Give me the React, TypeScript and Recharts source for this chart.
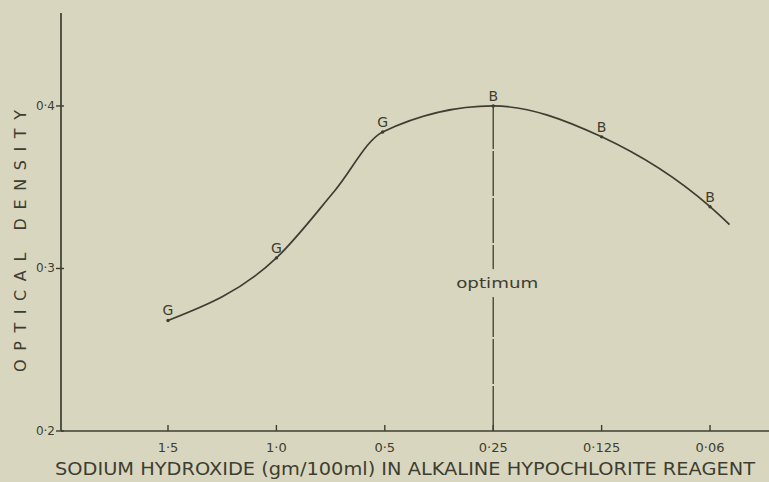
import {
  LineChart,
  Line,
  XAxis,
  YAxis,
  ReferenceLine,
  ReferenceDot,
} from 'recharts';

const INK = '#3d3e31';
const PAPER = '#d9d6bf';

// x axis: equally spaced concentration steps (index on the axis)
const tickPositions = [0, 1, 2, 3, 4, 5];
const tickLabels = ['1·5', '1·0', '0·5', '0·25', '0·125', '0·06'];

// curve
const curveX = [0, 1, 1.54, 1.98, 3, 4, 5, 5.18];
const curveDensity = [0.268, 0.3065, 0.348, 0.384, 0.4, 0.381, 0.338, 0.327];
const curveMarks = ['G', 'G', '', 'G', 'B', 'B', 'B', ''];

const densityTicks = [0.2, 0.3, 0.4];
const densityLabels = ['0·2', '0·3', '0·4'];

const optimumX = 3;
const optimumTop = 0.4;
const optimumLabelAt = 0.291;

const data = curveX.map((x, i) => ({
  x,
  density: curveDensity[i],
  mark: curveMarks[i],
}));

const FONT = '"DejaVu Sans", sans-serif';

const MarkDot = (props: any) => {
  const { cx, cy, payload, index } = props;
  if (!payload.mark) return <g key={index} />;
  return (
    <g key={index}>
      <circle cx={cx} cy={cy} r={1.7} fill={INK} />
      <text
        x={cx}
        y={cy - 5}
        textAnchor="middle"
        fontSize={14}
        fontFamily={FONT}
        fill={INK}
      >
        {payload.mark}
      </text>
    </g>
  );
};

const XTick = (props: any) => {
  const { x, y, payload } = props;
  const i = tickPositions.indexOf(payload.value);
  return (
    <g>
      <line x1={x} x2={x} y1={y} y2={y - 6} stroke={INK} strokeWidth={1.4} />
      <text
        x={x}
        y={y + 21}
        textAnchor="middle"
        fontSize={13}
        fontFamily={FONT}
        fill={INK}
      >
        {tickLabels[i]}
      </text>
    </g>
  );
};

const YTick = (props: any) => {
  const { x, y, payload } = props;
  const i = densityTicks.indexOf(payload.value);
  return (
    <g>
      <line x1={x - 5} x2={x + 3} y1={y} y2={y} stroke={INK} strokeWidth={1.4} />
      <text
        x={x - 6}
        y={y + 4}
        textAnchor="end"
        fontSize={12}
        fontFamily={FONT}
        fill={INK}
      >
        {densityLabels[i]}
      </text>
    </g>
  );
};

const OptimumLabel = (props: any) => {
  const { cx, cy } = props;
  return (
    <g>
      <rect x={cx - 42} y={cy - 14} width={84} height={28} fill={PAPER} />
      <text
        x={cx + 4}
        y={cy + 5}
        textAnchor="middle"
        fontSize={14}
        fontFamily={FONT}
        fill={INK}
        textLength={82}
        lengthAdjust="spacingAndGlyphs"
      >
        optimum
      </text>
    </g>
  );
};

export default function App() {
  return (
    <div
      style={{
        position: 'absolute',
        left: 0,
        top: 0,
        width: 769,
        height: 482,
        background: PAPER,
      }}
    >
      <LineChart
        width={769}
        height={482}
        data={data}
        margin={{ top: 13, right: 0, left: 0, bottom: 0 }}
      >
        <XAxis
          type="number"
          dataKey="x"
          domain={[-0.987, 5.544]}
          ticks={tickPositions}
          allowDataOverflow
          tick={<XTick />}
          tickLine={false}
          tickSize={0}
          tickMargin={0}
          height={51}
          axisLine={{ stroke: INK, strokeWidth: 1.7 }}
          label={{
            content: () => (
              <text
                x={55}
                y={475}
                fontSize={17}
                fontFamily={FONT}
                fill={INK}
                textLength={700}
                lengthAdjust="spacingAndGlyphs"
              >
                SODIUM HYDROXIDE (gm/100ml) IN ALKALINE HYPOCHLORITE REAGENT
              </text>
            ),
          }}
        />
        <YAxis
          type="number"
          domain={[0.2, 0.4572]}
          ticks={densityTicks}
          allowDataOverflow
          width={61}
          tick={<YTick />}
          tickLine={false}
          tickSize={0}
          tickMargin={0}
          axisLine={{ stroke: INK, strokeWidth: 1.7 }}
          label={{
            content: () => (
              <text
                x={0}
                y={0}
                transform="translate(26 372) rotate(-90)"
                fontSize={16}
                fontFamily={FONT}
                fill={INK}
                textLength={262}
                lengthAdjust="spacing"
              >
                OPTICAL DENSITY
              </text>
            ),
          }}
        />
        <ReferenceLine
          segment={[
            { x: optimumX, y: 0.2 },
            { x: optimumX, y: optimumTop },
          ]}
          stroke={INK}
          strokeWidth={1.3}
          strokeDasharray="45 2"
        />
        <ReferenceDot
          x={optimumX}
          y={optimumLabelAt}
          shape={<OptimumLabel />}
        />
        <Line
          type="monotoneX"
          dataKey="density"
          stroke={INK}
          strokeWidth={1.7}
          dot={MarkDot}
          activeDot={false}
          isAnimationActive={false}
        />
      </LineChart>
    </div>
  );
}
